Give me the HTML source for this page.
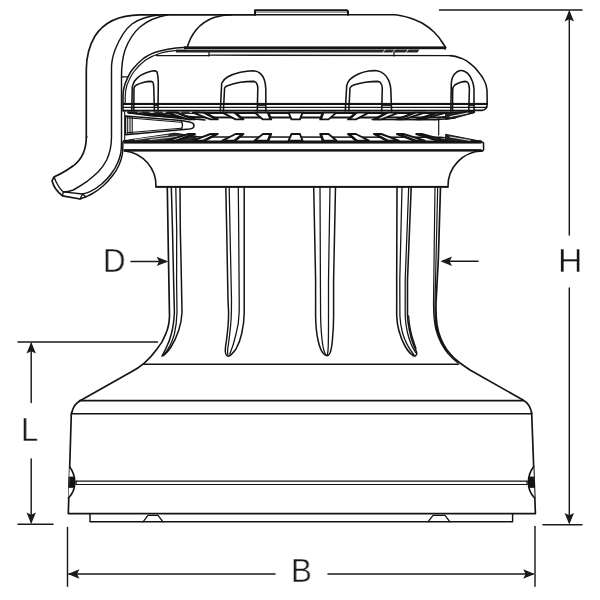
<!DOCTYPE html>
<html><head><meta charset="utf-8"><title>Winch dimensions</title>
<style>
html,body{margin:0;padding:0;background:#fff;}
body{width:600px;height:600px;overflow:hidden;position:relative;font-family:"Liberation Sans",sans-serif;}
svg{position:absolute;left:0;top:0;display:block}
.lbl{position:absolute;font-family:"Liberation Sans",sans-serif;font-size:34px;line-height:34px;color:#161616;white-space:nowrap;-webkit-text-stroke:0.42px #fff;transform-origin:0 0;will-change:transform;}
</style></head>
<body>
<svg width="600" height="600" viewBox="0 0 600 600" shape-rendering="geometricPrecision" stroke-linecap="round" stroke-linejoin="round">
<rect x="0" y="0" width="600" height="600" fill="#fff"/>
<path d="M255,14.8 L140,14.8 C120,15 104,22 95,36 C89,46 86.3,56 86.3,70 L86.3,137 C86.3,150 81,160 73.3,165.8 C66,171 60,174.5 54.2,176.7 L52,180.8 C53,184.5 54,186.5 55.8,189 C57.5,191.5 60,194 62.5,195.8 L80,199 L85.8,196.7" fill="none" stroke="#141414" stroke-width="1.68" />
<path d="M54.4,177.5 C55,180 56,182 57.5,184.5 C59,187.5 61,190 63.3,191.9 L82.5,194 L85.8,196.7 M63.3,191.9 L62.5,195.8 M82.5,194 L80,199" fill="none" stroke="#141414" stroke-width="1.32" />
<path d="M160,14.8 C148,16 139,19 132,24 C124,30 119,40 115,50 C112,58 111.5,62 111.5,68 L111.5,137 C111.5,148 109,155 106.7,160 C104,165 101,169 98.3,171.7 C94,176 90,179 86.7,181.7 C82,185 77,188 73.3,190 C70,191.3 66,192 63.3,192" fill="none" stroke="#141414" stroke-width="1.44" />
<path d="M168,14.8 C156,17 147,21 140,27 C133,33 128,42 125,50 C122.5,58 121.5,64 121.5,76 L121.5,141.7 C121.5,147 121.3,150 120.8,153 C120,157 119,160 117.5,163 C116,167 114,170 111.7,173 C109,177 105,181 101.7,184 C98,187 94,189.8 90,191.7 C87,193 85,193.6 82.5,194" fill="none" stroke="#141414" stroke-width="1.44" />
<path d="M122.9,141.7 C122.9,147 122.8,150 122.5,153.3 C121.8,158 120.6,161.5 119,165 C117.5,168.5 115.5,172 113,175 C110,179 106.5,183 103,186 C99.5,189 95.5,192 91.7,194 C89.5,195.2 87.5,196 85.8,196.7" fill="none" stroke="#141414" stroke-width="1.44" />
<path d="M86.3,137L87.3,137" fill="none" stroke="#141414" stroke-width="1.2"/>
<path d="M121.5,76.8L127.5,76.8" fill="none" stroke="#141414" stroke-width="1.2"/>
<path d="M187,48 C189,41 192,35 196,30 C201,24 207,20 214,17.5 C220,15.5 225,14.8 232,14.8" fill="none" stroke="#141414" stroke-width="1.56" />
<path d="M255,14.8 L394,14.8 C400,15 405,16.5 410,18 C415,19.5 419,21.5 422,23 C427,26 431,29 434,32 C437,35 440,38.5 442,42 C443.5,44.5 444.8,46 445.8,47.6 L445,49" fill="none" stroke="#141414" stroke-width="1.56" />
<path d="M255,14.8 L255,10.3 L346.5,10.3 Q348,10.3 348,12 L348,14.8" fill="none" stroke="#141414" stroke-width="2.04" />
<path d="M256,12.2L347,12.2" fill="none" stroke="#141414" stroke-width="0.6"/>
<rect x="184" y="46.4" width="261.5" height="2.8" fill="#141414"/>
<path d="M186,47.8L444,47.8" fill="none" stroke="#141414" stroke-width="0.6"/>
<path d="M176,49.8 L419.5,49.6 L417.5,52.5 L176,52.5 Z" fill="#262626"/>
<path d="M385.2,49.4 L382.8,52.7" stroke="#fff" stroke-width="0.8" fill="none"/>
<path d="M394.9,49.4 L392.5,52.7" stroke="#fff" stroke-width="0.8" fill="none"/>
<path d="M408.2,49.4 L405.8,52.7" stroke="#fff" stroke-width="0.8" fill="none"/>
<path d="M209,52.5L209,56" fill="none" stroke="#141414" stroke-width="1.2"/>
<path d="M394,52.5L394,56" fill="none" stroke="#141414" stroke-width="1.2"/>
<path d="M156.3,55.6L209,55.6" fill="none" stroke="#141414" stroke-width="1.2"/>
<path d="M209,55.2L450,55.6" fill="none" stroke="#141414" stroke-width="1.32"/>
<path d="M123,111 L123,96 C123,90 124,87 125,84 C127,79 129,74 132,70 C135.5,65.5 139.5,61.5 144,58 C149,54.5 154,52.5 160,51 C165,49.6 170,48.6 176,48 L187,47.2" fill="none" stroke="#141414" stroke-width="1.56" />
<path d="M125.2,104 L125.2,97 C125.3,91 126,88 127,85 C129,80 131,75.5 134,71.5 C137.5,67 141.5,63 146,59.8 C151,56.5 156,54.5 161,53 C166,51.6 172,50.8 178,50.4 L186,50.4" fill="none" stroke="#141414" stroke-width="1.2" />
<path d="M450,55.6 C454,55.8 458,57 461.7,58.4 C465,59.8 468,61.5 470,63.3 C473.5,66 476,68.5 478.3,71.7 C480.7,74.5 482.5,77 484,80 C485.6,83 486.6,86.5 487,90 L487.2,104 C487.2,107.5 485.8,110.2 481.7,110.4 L474,110.4" fill="none" stroke="#141414" stroke-width="1.56" />
<rect x="123" y="102.9" width="364.5" height="2.1" fill="#141414"/>
<path d="M123,107.4L486.8,107.4" fill="none" stroke="#141414" stroke-width="1.2"/>
<rect x="123" y="109.7" width="352" height="1.9" fill="#141414"/>
<path d="M131.7,111 L132.3,86.8 C132.8,84.5 133.6,82.7 134.6,81 C136.3,78.5 138.5,76.7 141,75.2 C143.8,73.6 146.5,72.5 149.2,71.7 C151.2,71.1 153,70.7 154.4,70.7 C156.3,70.8 157.1,71.6 157.3,72.8 C158,76 158.3,79.5 158.3,83.3 L158,111" fill="none" stroke="#141414" stroke-width="1.56" />
<path d="M133.8,111 L134,88 C134.4,86.6 135.2,85.6 136.3,85 C138.5,83.9 141,83 143.3,82.4 C146,81.8 148.8,81.5 151,81.4 C152.4,81.5 153.1,82.2 153.3,83.3 C153.6,85 153.8,87 153.8,89 L154.4,111" fill="none" stroke="#141414" stroke-width="1.56" />
<path d="M220.3,111 L221.7,83.3 C222.8,80.5 225,78.5 227.5,77 C231.5,74.8 236,73.3 240.3,72.3 C245,71.2 249.5,70.7 253.2,70.7 C256.2,70.9 258.5,71.9 260.2,73.4 C262.3,75.2 263.5,77.3 264.3,79.8 C265.3,82.8 265.8,86 265.8,89.2 L265.8,111" fill="none" stroke="#141414" stroke-width="1.56" />
<path d="M223.4,111 L224.6,88 C225.2,86.8 226.2,86.1 227.5,85.7 C231.5,84.2 236,83 240.3,82.2 C245,81.6 249.5,81.4 253.2,81.4 C255,81.6 256.1,82.3 256.7,83.3 C257.4,84.8 257.8,86.3 257.8,88 L257.3,111" fill="none" stroke="#141414" stroke-width="1.56" />
<path d="M345.3,111 L346.7,85.7 C347.3,83.3 348.3,81.4 349.6,79.8 C352,77.2 355,75.5 358.3,74 C361.8,72.5 365.4,71.5 368.8,71 C371.8,70.6 374.6,70.5 377,70.7 C379.8,71.2 382,72.3 384,74 C386.2,75.8 387.7,78 388.7,80.4 C389.9,83.3 390.6,86.2 390.8,89.2 L391.6,111" fill="none" stroke="#141414" stroke-width="1.56" />
<path d="M348.8,111 L350,88 C350.8,86.5 352,85.6 353.7,85 C357.5,83.7 361.5,82.8 365.3,82.2 C369.8,81.6 374.2,81.4 378.2,81.4 C379.7,81.7 380.5,82.3 381,83.3 C381.8,84.8 382.2,86.3 382.3,88 L381.7,111" fill="none" stroke="#141414" stroke-width="1.56" />
<path d="M450.8,111 L451.3,83.3 C451.4,81.2 451.8,79.2 452.5,77.5 C453.6,75 455.2,73.1 457.2,71.7 C458.8,70.8 460.3,70.4 461.8,70.5 C464,70.8 466,71.8 467.7,73.4 C469.8,75.5 471.3,78 472.3,81 C473.3,83.7 473.9,86.4 474,89.2 L474,109.5" fill="none" stroke="#141414" stroke-width="1.56" />
<path d="M452.5,111 L452.7,89.2 C453,87.4 453.7,86 454.8,85 C456.6,83.7 458.6,82.8 460.7,82.2 C462.6,81.7 464.4,81.4 466,81.4 C467.2,81.6 467.9,82.3 468.3,83.3 C469,85.2 469.4,87.2 469.4,89.2 L468.8,110.5" fill="none" stroke="#141414" stroke-width="1.56" />
<path d="M258,105.6L265.5,105.6" fill="none" stroke="#141414" stroke-width="0.96"/>
<path d="M382,105.6L391,105.6" fill="none" stroke="#141414" stroke-width="0.96"/>
<path d="M154.5,105.6L158,105.6" fill="none" stroke="#141414" stroke-width="0.96"/>
<path d="M469,105.6L474,105.6" fill="none" stroke="#141414" stroke-width="0.96"/>
<rect x="123.5" y="140.5" width="358" height="3.1" fill="#141414"/>
<rect x="123.5" y="149.1" width="358" height="2.5" fill="#141414"/>
<path d="M481,141.4 L483.5,143 L483.6,149.4 Q483.5,151 481.4,151.2" fill="none" stroke="#141414" stroke-width="1.56" />
<path d="M135,112.3 L150,113 L446,113 L474,111.6" fill="none" stroke="#141414" stroke-width="1.8" />
<path d="M128,112.3 L150,115.5 L180,117.3 L438,117.6 L452,116.6 L474,112.2" fill="none" stroke="#141414" stroke-width="1.98" />
<path d="M176,134.2 L200,137 L440,137.3 L481,141.4" fill="none" stroke="#141414" stroke-width="1.5" />
<path d="M438.7,117.6L438.7,135" fill="none" stroke="#141414" stroke-width="1.2"/>
<path d="M446,113 L474,111.5 L474.4,112.6 L455,118 L446,119.4 Z" fill="#222" stroke="#141414" stroke-width="1"/>
<path d="M450,116.6 L468,113" stroke="#fff" stroke-width="0.9" fill="none"/>
<path d="M446,134.4 L481,141.3 L446,141.3 Z" fill="#222" stroke="#141414" stroke-width="1"/>
<path d="M450,137 L470,140.4" stroke="#fff" stroke-width="0.9" fill="none"/>
<path d="M372,119.6 L436,119.8 L455,118" fill="none" stroke="#141414" stroke-width="1.44" />
<path d="M128,111.4 L200,111.4 L200,114 L128,113.4 Z" fill="#2b2b2b"/>
<path d="M138,112.3 L142,112.3" stroke="#fff" stroke-width="0.9" fill="none"/>
<path d="M150,112.3 L154,112.3" stroke="#fff" stroke-width="0.9" fill="none"/>
<path d="M163,112.3 L167,112.3" stroke="#fff" stroke-width="0.9" fill="none"/>
<path d="M177,112.3 L181,112.3" stroke="#fff" stroke-width="0.9" fill="none"/>
<path d="M190,112.3 L194,112.3" stroke="#fff" stroke-width="0.9" fill="none"/>
<path d="M129,113 L205,120 M129,112.6 L190,119.4 M140,113 L200,117.4" fill="none" stroke="#141414" stroke-width="1.56" />
<path d="M123.5,140.8 L175,133.2 L196,136.4 L196,141 Z" fill="#2b2b2b" stroke="#141414" stroke-width="1"/>
<path d="M135,139.6 L168,135.2" stroke="#fff" stroke-width="0.8" fill="none"/>
<path d="M150,139.6 L180,136.2" stroke="#fff" stroke-width="0.8" fill="none"/>
<path d="M125.5,116 L181,120.5 L189.5,122.1 Q194,123 194,125.7 Q194,128.5 189.5,129 L181,129.7 L125.5,134.7 Z" fill="#fff" stroke="#141414" stroke-width="1.5"/>
<path d="M127,117.8 L181,122.2 M127,132.8 L181,128.2" fill="none" stroke="#141414" stroke-width="1.08" />
<path d="M181,120.6 C182.8,123.5 182.8,127 181,129.6" fill="none" stroke="#141414" stroke-width="1.32" />
<path d="M124.7,111.5 L124.7,141 M127.7,116.2 L127.7,134.4 M130,116.4 L130,134.2 M132.2,116.6 L132.2,134" fill="none" stroke="#141414" stroke-width="1.08" />
<path d="M166.8,112.6L177.5,112.6L195.0,119.4L188.5,119.4Z" fill="#fff" stroke="#141414" stroke-width="1.9" stroke-linejoin="round"/>
<path d="M177.5,112.6L195.0,119.4L191.0,119.4L173.6,112.6Z" fill="#141414"/>
<path d="M166.8,140.6L177.5,140.6L195.0,134.0L188.5,134.0Z" fill="#fff" stroke="#141414" stroke-width="1.9" stroke-linejoin="round"/>
<path d="M177.5,140.6L195.0,134.0L191.0,134.0L173.6,140.6Z" fill="#141414"/>
<path d="M192.7,112.6L204.8,112.6L217.8,119.4L210.5,119.4Z" fill="#fff" stroke="#141414" stroke-width="1.9" stroke-linejoin="round"/>
<path d="M204.8,112.6L217.8,119.4L214.5,119.4L201.5,112.6Z" fill="#141414"/>
<path d="M192.7,140.6L204.8,140.6L217.8,134.0L210.5,134.0Z" fill="#fff" stroke="#141414" stroke-width="1.9" stroke-linejoin="round"/>
<path d="M204.8,140.6L217.8,134.0L214.5,134.0L201.5,140.6Z" fill="#141414"/>
<path d="M222.4,112.6L235.5,112.6L243.5,119.4L235.6,119.4Z" fill="#fff" stroke="#141414" stroke-width="1.9" stroke-linejoin="round"/>
<path d="M235.5,112.6L243.5,119.4L240.9,119.4L232.9,112.6Z" fill="#141414"/>
<path d="M222.4,140.6L235.5,140.6L243.5,134.0L235.6,134.0Z" fill="#fff" stroke="#141414" stroke-width="1.9" stroke-linejoin="round"/>
<path d="M235.5,140.6L243.5,134.0L240.9,134.0L232.9,140.6Z" fill="#141414"/>
<path d="M254.7,112.6L268.5,112.6L271.2,119.4L263.0,119.4Z" fill="#fff" stroke="#141414" stroke-width="1.9" stroke-linejoin="round"/>
<path d="M268.5,112.6L271.2,119.4L269.4,119.4L266.7,112.6Z" fill="#141414"/>
<path d="M254.7,140.6L268.5,140.6L271.2,134.0L263.0,134.0Z" fill="#fff" stroke="#141414" stroke-width="1.9" stroke-linejoin="round"/>
<path d="M268.5,140.6L271.2,134.0L269.4,134.0L266.7,140.6Z" fill="#141414"/>
<path d="M288.6,112.6L302.6,112.6L299.9,119.4L291.5,119.4Z" fill="#fff" stroke="#141414" stroke-width="1.9" stroke-linejoin="round"/>
<path d="M288.6,140.6L302.6,140.6L299.9,134.0L291.5,134.0Z" fill="#fff" stroke="#141414" stroke-width="1.9" stroke-linejoin="round"/>
<path d="M322.6,112.6L336.4,112.6L328.5,119.4L320.2,119.4Z" fill="#fff" stroke="#141414" stroke-width="1.9" stroke-linejoin="round"/>
<path d="M322.6,112.6L320.2,119.4L322.0,119.4L324.4,112.6Z" fill="#141414"/>
<path d="M322.6,140.6L336.4,140.6L328.5,134.0L320.2,134.0Z" fill="#fff" stroke="#141414" stroke-width="1.9" stroke-linejoin="round"/>
<path d="M322.6,140.6L320.2,134.0L322.0,134.0L324.4,140.6Z" fill="#141414"/>
<path d="M355.7,112.6L368.9,112.6L355.9,119.4L348.0,119.4Z" fill="#fff" stroke="#141414" stroke-width="1.9" stroke-linejoin="round"/>
<path d="M355.7,112.6L348.0,119.4L350.6,119.4L358.3,112.6Z" fill="#141414"/>
<path d="M355.7,140.6L368.9,140.6L355.9,134.0L348.0,134.0Z" fill="#fff" stroke="#141414" stroke-width="1.9" stroke-linejoin="round"/>
<path d="M355.7,140.6L348.0,134.0L350.6,134.0L358.3,140.6Z" fill="#141414"/>
<path d="M386.6,112.6L398.8,112.6L381.2,119.4L373.9,119.4Z" fill="#fff" stroke="#141414" stroke-width="1.9" stroke-linejoin="round"/>
<path d="M386.6,112.6L373.9,119.4L377.2,119.4L389.8,112.6Z" fill="#141414"/>
<path d="M386.6,140.6L398.8,140.6L381.2,134.0L373.9,134.0Z" fill="#fff" stroke="#141414" stroke-width="1.9" stroke-linejoin="round"/>
<path d="M386.6,140.6L373.9,134.0L377.2,134.0L389.8,140.6Z" fill="#141414"/>
<path d="M414.1,112.6L424.9,112.6L403.4,119.4L396.9,119.4Z" fill="#fff" stroke="#141414" stroke-width="1.9" stroke-linejoin="round"/>
<path d="M414.1,112.6L396.9,119.4L400.8,119.4L418.0,112.6Z" fill="#141414"/>
<path d="M414.1,140.6L424.9,140.6L403.4,134.0L396.9,134.0Z" fill="#fff" stroke="#141414" stroke-width="1.9" stroke-linejoin="round"/>
<path d="M414.1,140.6L396.9,134.0L400.8,134.0L418.0,140.6Z" fill="#141414"/>
<path d="M437.2,112.6L446.3,112.6L421.7,119.4L416.2,119.4Z" fill="#fff" stroke="#141414" stroke-width="1.9" stroke-linejoin="round"/>
<path d="M437.2,112.6L416.2,119.4L420.6,119.4L441.6,112.6Z" fill="#141414"/>
<path d="M437.2,140.6L446.3,140.6L421.7,134.0L416.2,134.0Z" fill="#fff" stroke="#141414" stroke-width="1.9" stroke-linejoin="round"/>
<path d="M437.2,140.6L416.2,134.0L420.6,134.0L441.6,140.6Z" fill="#141414"/>
<path d="M125,151 A35,35 0 0 1 156,186.8" fill="none" stroke="#141414" stroke-width="1.56" />
<path d="M482,151 A35,35 0 0 0 448,186.8" fill="none" stroke="#141414" stroke-width="1.56" />
<rect x="155.5" y="185.9" width="293" height="2.0" fill="#141414"/>
<path d="M167.3,187 L168.5,260 L169.5,316 C169.3,324 168,329 165.7,334 C163.5,340 160.5,345 157,349 C153,354.5 148.5,359.5 144,363.4 C140,366.8 136,369.5 131,372 L80.5,400.4 C76.5,402.6 73.4,406 71.9,412" fill="none" stroke="#141414" stroke-width="1.68" />
<path d="M440.5,187 L438.3,260 L436,303 C435.8,312 436,318 437,325 C438.5,334 442,343 447,350 C451,355.5 455,359.5 460,363 C463.5,365.5 467,368 470,370 L523,400 C527.5,402.5 530.5,407 531.7,413" fill="none" stroke="#141414" stroke-width="1.68" />
<path d="M435,187 L433.5,303 C433.4,314 434,322 436,330 C438.5,339 442.5,347 448,353.5 C451.5,357.5 455,360.5 458,363 M437.7,187 L435,303 C434.8,313 435.3,321 436.7,328 C438.8,337 442.5,345.5 447.5,352" fill="none" stroke="#141414" stroke-width="1.2" />
<path d="M180,187 L180.3,230 L181,260 L181.4,280 L182,312.5 C181.6,320 180.5,325 178.8,330 C176.8,336 174.2,342 171,347 C168,351.5 165.3,354.5 162,356.2 C163.5,353 165.5,350 167,346 C169,342 170.3,338 171.3,334 C173,328 174,320 174.4,312.5 L173.6,280 L172.5,230 L171.3,187" fill="none" stroke="#141414" stroke-width="1.5" />
<path d="M175.8,187 L176.7,230 L176.6,280 L177,312 C176.8,320 176,327 174.4,334 C172.5,341 169,349 163.5,355.5" fill="none" stroke="#141414" stroke-width="1.26" />
<path d="M225.8,187 L226.7,230 L228,300 L228.6,312.5 C228.6,322 227.6,332 226.4,340.7 C225.6,345 225.2,348.5 225.3,351.5 C225.6,354.5 226.8,356 228.4,356.2 C231,355.5 233.5,352.5 236,349 C238.5,344.5 240.5,339 241.6,334 C243.3,327 244.2,320 244.2,312.5 L244.2,230 L244.2,187" fill="none" stroke="#141414" stroke-width="1.5" />
<path d="M229.2,187 L230,230 L231.5,300 L231.4,312 C231.2,322 230,333 228.3,345 C227.6,349 227.4,352.5 227.9,355 M238.3,187 L238.7,230 L239.2,300 L239.2,312 C239,320 237.8,328 235.8,335 C234.3,341.5 232.3,348 229.8,354" fill="none" stroke="#141414" stroke-width="1.26" />
<path d="M313.7,187 L315.6,280 L315.6,316 C315.8,326 316.6,334 318,340 C319.5,347 321.5,351.5 323.4,353.6 C324.6,355 325.8,355.8 327,355.8 C328.2,355.8 329.2,354.6 330,353 C331.2,350 332,345 332.4,340 C333.2,332 333.6,324 333.6,316 L333.6,280 L335.5,187" fill="none" stroke="#141414" stroke-width="1.5" />
<path d="M320,187 L320.4,280 L320.6,316 C320.8,326 321.4,336 322.6,344 C323.4,349.5 324.6,353 326,355 M330,187 L328.5,280 L328.5,316 C328.5,326 328.5,336 328.3,344 C328.2,349.5 327.8,353 327.3,355" fill="none" stroke="#141414" stroke-width="1.26" />
<path d="M397,187 L396.7,280 L396.7,316 C397,322 397.8,327 399,331 C400.5,336.5 402.5,341.5 405,346 C407.5,350.5 410,353.5 412.6,355.2 C414,356 415,356.2 415.6,355.6 C416.8,354.8 417,353.5 416.5,352 C415.8,350 415,348 414,346 C412,341 410.5,336 409.6,331 C408.5,326 407.8,321 407.5,316 L407.5,280 L411.2,187" fill="none" stroke="#141414" stroke-width="1.56" />
<path d="M402,187 L399.8,280 L399.9,316 C400.2,322 401,327 402.3,332 C404.3,339.5 408,347.5 414,355 M408.7,187 L405.2,280 L405.2,316 C405.5,322 406.2,327 407.3,332 C408.8,338.5 411.5,346 415.5,352.5 M408.6,316 C409,322 409.8,327 410.8,331.5 C412,337 414,343 416,348.5" fill="none" stroke="#141414" stroke-width="1.26" />
<path d="M143.5,364.3L458.5,364.3" fill="none" stroke="#141414" stroke-width="1.56"/>
<path d="M79.5,400.6L523.5,400.6" fill="none" stroke="#141414" stroke-width="1.56"/>
<path d="M71.3,413.8L531.7,413.8" fill="none" stroke="#141414" stroke-width="1.56"/>
<path d="M71.9,412 L71.3,414 L68.3,513.6 L535.4,513.6 L531.7,414 L531.5,413" fill="none" stroke="#141414" stroke-width="1.68" />
<path d="M90,513.6 L90,521.8 L512.6,521.8 L512.6,513.6" fill="none" stroke="#141414" stroke-width="1.44" />
<path d="M143,521.8 L148,515.3 L158,515.3 L163,521.8 M428,521.8 L433,515.3 L445,515.3 L450,521.8" fill="none" stroke="#141414" stroke-width="1.32" />
<path d="M76.2,481.2L527,481.2" fill="none" stroke="#141414" stroke-width="1.2"/>
<path d="M76.2,484.5L527,484.5" fill="none" stroke="#141414" stroke-width="1.2"/>
<path d="M76.2,481.2L76.2,484.5" fill="none" stroke="#141414" stroke-width="1.2"/>
<path d="M527,481.2L527,484.5" fill="none" stroke="#141414" stroke-width="1.2"/>
<path d="M69.7,467 C72.8,471 74.8,476.5 74.8,482.5 C74.8,488.5 72.6,494 68.4,498" fill="#fff" stroke="#141414" stroke-width="1.7"/>
<path d="M69.3,477 L73.8,477 C74.6,480.5 74.6,484 73.8,487.4 L69,487.4 Z" fill="#141414" stroke="#141414" stroke-width="0.8"/>
<path d="M533.4,467 C530.4,471 528.4,476.5 528.4,482.5 C528.4,488.5 530.6,494 534.6,498" fill="#fff" stroke="#141414" stroke-width="1.7"/>
<path d="M533.8,477 L529.4,477 C528.6,480.5 528.6,484 529.4,487.4 L534.2,487.4 Z" fill="#141414" stroke="#141414" stroke-width="0.8"/>
<path d="M439.5,10L582,10" fill="none" stroke="#1a1a1a" stroke-width="1.45"/>
<path d="M543,524.7L582,524.7" fill="none" stroke="#1a1a1a" stroke-width="1.45"/>
<path d="M569.3,12L569.3,235" fill="none" stroke="#1a1a1a" stroke-width="1.45"/>
<path d="M569.3,288L569.3,522" fill="none" stroke="#1a1a1a" stroke-width="1.45"/>
<path d="M569.3,10L564.5999999999999,21.6L569.3,19.2L574.0,21.6Z" fill="#1a1a1a"/>
<path d="M569.3,524.5L564.5999999999999,512.9L569.3,515.3L574.0,512.9Z" fill="#1a1a1a"/>
<path d="M18,342L157.5,342" fill="none" stroke="#1a1a1a" stroke-width="1.45"/>
<path d="M18,524.3L53,524.3" fill="none" stroke="#1a1a1a" stroke-width="1.45"/>
<path d="M31.2,344L31.2,402.5" fill="none" stroke="#1a1a1a" stroke-width="1.45"/>
<path d="M31.2,459L31.2,522" fill="none" stroke="#1a1a1a" stroke-width="1.45"/>
<path d="M31.2,342L26.5,353.6L31.2,351.2L35.9,353.6Z" fill="#1a1a1a"/>
<path d="M31.2,524L26.5,512.4L31.2,514.8L35.9,512.4Z" fill="#1a1a1a"/>
<path d="M67.5,527.5L67.5,586.3" fill="none" stroke="#1a1a1a" stroke-width="1.45"/>
<path d="M535,526.5L535,586.3" fill="none" stroke="#1a1a1a" stroke-width="1.45"/>
<path d="M69,574L275,574" fill="none" stroke="#1a1a1a" stroke-width="1.45"/>
<path d="M328,574L533,574" fill="none" stroke="#1a1a1a" stroke-width="1.45"/>
<path d="M67.8,574L79.39999999999999,569.3L77.0,574L79.39999999999999,578.7Z" fill="#1a1a1a"/>
<path d="M534.8,574L523.1999999999999,569.3L525.5999999999999,574L523.1999999999999,578.7Z" fill="#1a1a1a"/>
<path d="M131,261.4L166,261.4" fill="none" stroke="#1a1a1a" stroke-width="1.45"/>
<path d="M443,261.3L478,261.3" fill="none" stroke="#1a1a1a" stroke-width="1.45"/>
<path d="M168.3,261.4L156.70000000000002,256.7L159.10000000000002,261.4L156.70000000000002,266.09999999999997Z" fill="#1a1a1a"/>
<path d="M440.4,261.3L452.0,256.6L449.59999999999997,261.3L452.0,266.0Z" fill="#1a1a1a"/>
</svg>
<div class="lbl" id="lH" style="left:558px;top:242.6px;transform:scaleX(0.999);">H</div>
<div class="lbl" id="lL" style="left:21.3px;top:412.3px;transform:scaleX(0.92);">L</div>
<div class="lbl" id="lB" style="left:291.3px;top:553.3px;transform:scaleX(0.92);">B</div>
<div class="lbl" id="lD" style="left:103.3px;top:242.5px;transform:scaleX(0.92);">D</div>
</body></html>
